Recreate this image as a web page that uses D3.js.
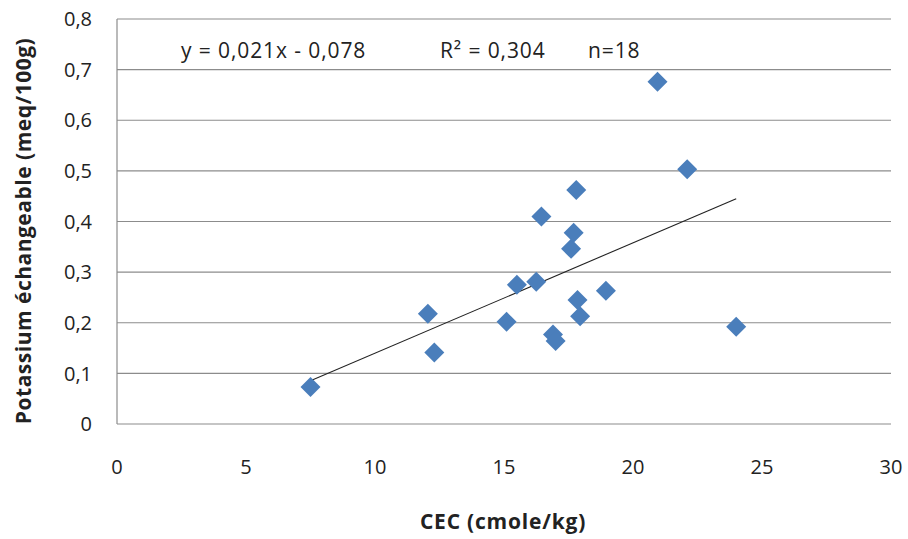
<!DOCTYPE html>
<html>
<head>
<meta charset="utf-8">
<title>Potassium vs CEC</title>
<script src="https://d3js.org/d3.v7.min.js"></script>
<style>
  body { margin: 0; background: #fff; }
  text { font-family: "Open Sans", "Liberation Sans", sans-serif; fill: #222; }
</style>
</head>
<body>
<svg width="908" height="539"></svg>
<script>
// CEC (cmole/kg)
var cec = [7.5, 12.05, 12.3, 15.1, 15.5, 16.25, 16.45, 16.9, 17.0, 17.6, 17.7, 17.8, 17.85, 17.95, 18.95, 20.95, 22.1, 24.0];
// potassium échangeable (meq/100g)
var potassium = [0.073, 0.218, 0.141, 0.202, 0.275, 0.281, 0.410, 0.177, 0.164, 0.346, 0.378, 0.462, 0.245, 0.213, 0.263, 0.676, 0.503, 0.192];
var xTicks = [0, 5, 10, 15, 20, 25, 30];
var yTicks = [0, 0.1, 0.2, 0.3, 0.4, 0.5, 0.6, 0.7, 0.8];
var statsText = ["y = 0,021x - 0,078", "R² = 0,304", "n=18"];

var svg = d3.select("svg"),
    pLeft = 117, pRight = 891, pTop = 19, pBottom = 424;

var x = d3.scaleLinear().domain([0, 30]).range([pLeft, pRight]);
var y = d3.scaleLinear().domain([0, 0.8]).range([pBottom, pTop]);
var fmt = function(d) { return d3.format(".1~f")(d).replace(".", ","); };

// gridlines
svg.append("g")
  .selectAll("line")
  .data(yTicks.slice(1))
  .enter().append("line")
    .attr("x1", pLeft).attr("x2", pRight)
    .attr("y1", y).attr("y2", y)
    .attr("stroke", "#8c8c8c").attr("stroke-width", 1.2);

// axis lines
svg.append("line").attr("x1", pLeft).attr("x2", pRight).attr("y1", pBottom).attr("y2", pBottom)
  .attr("stroke", "#8c8c8c").attr("stroke-width", 1.2);
svg.append("line").attr("x1", pLeft).attr("x2", pLeft).attr("y1", pTop).attr("y2", pBottom)
  .attr("stroke", "#8c8c8c").attr("stroke-width", 1.2);

// tick labels
svg.append("g")
  .selectAll("text")
  .data(yTicks)
  .enter().append("text")
    .attr("x", pLeft - 25)
    .attr("y", y)
    .attr("dy", "0.36em")
    .attr("text-anchor", "end")
    .style("font-size", "20px")
    .text(function(d) { return d === 0 ? "0" : fmt(d); });

svg.append("g")
  .selectAll("text")
  .data(xTicks)
  .enter().append("text")
    .attr("x", x)
    .attr("y", pBottom + 43)
    .attr("dy", "0.36em")
    .attr("text-anchor", "middle")
    .style("font-size", "20px")
    .text(function(d) { return d; });

// axis titles
svg.append("text")
  .attr("x", 503).attr("y", 529)
  .attr("text-anchor", "middle")
  .style("font-size", "21px").style("font-weight", "bold")
  .style("letter-spacing", "0.8px")
  .text("CEC (cmole/kg)");

svg.append("text")
  .attr("transform", "translate(31,231)rotate(-90)")
  .attr("text-anchor", "middle")
  .style("font-size", "21px").style("font-weight", "bold")
  .style("letter-spacing", "0.5px")
  .text("Potassium échangeable (meq/100g)");

// linear regression
var mx = d3.mean(cec), my = d3.mean(potassium),
    sxy = d3.sum(cec, function(v, i) { return (v - mx) * (potassium[i] - my); }),
    sxx = d3.sum(cec, function(v) { return (v - mx) * (v - mx); }),
    slope = sxy / sxx, icpt = my - slope * mx,
    ext = d3.extent(cec);

svg.append("line")
  .attr("x1", x(ext[0])).attr("y1", y(icpt + slope * ext[0]))
  .attr("x2", x(ext[1])).attr("y2", y(icpt + slope * ext[1]))
  .attr("stroke", "#222").attr("stroke-width", 1.1);

// points
svg.append("g")
  .selectAll("path")
  .data(cec)
  .enter().append("path")
    .attr("d", function(d, i) {
      var cx = x(d), cy = y(potassium[i]), r = 10;
      return "M" + cx + "," + (cy - r) + "L" + (cx + r) + "," + cy + "L" + cx + "," + (cy + r) + "L" + (cx - r) + "," + cy + "Z";
    })
    .attr("fill", "#4a7ebb");

// equation text
svg.append("g")
  .selectAll("text")
  .data(statsText)
  .enter().append("text")
    .attr("x", function(d, i) { return [181, 440, 588][i]; })
    .attr("y", 50)
    .attr("dy", "0.36em")
    .style("font-size", "21px")
    .style("letter-spacing", "0.9px")
    .text(function(d) { return d; });
</script>
</body>
</html>
